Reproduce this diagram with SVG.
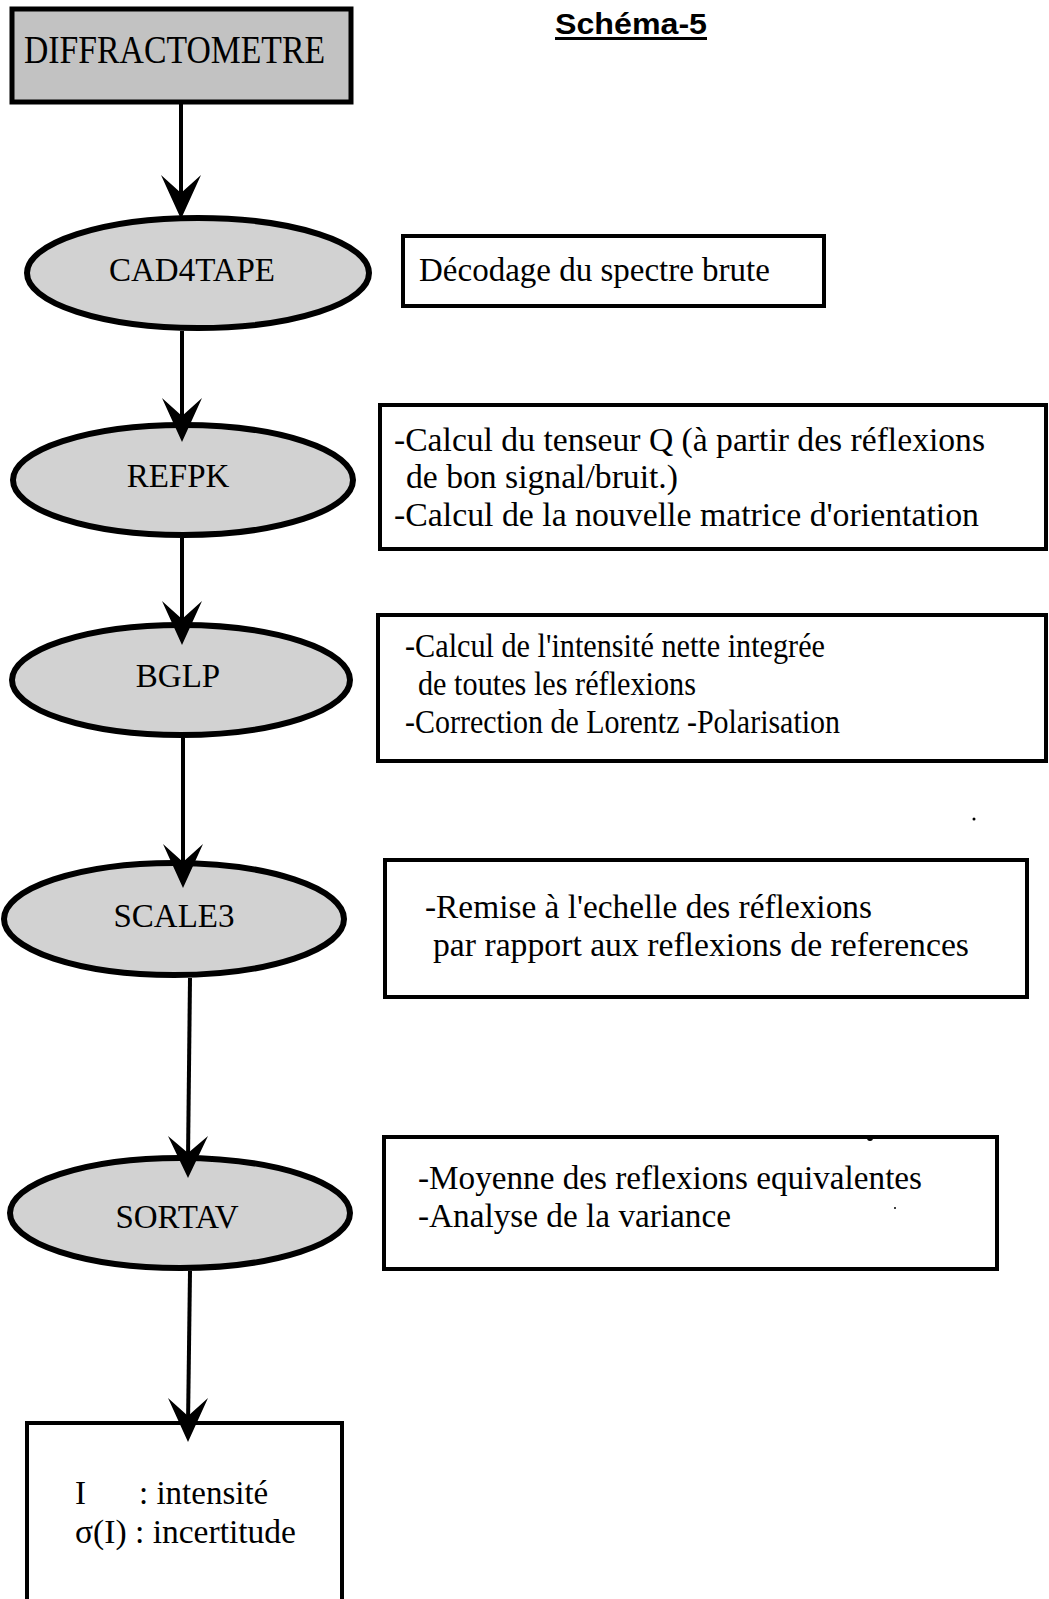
<svg xmlns="http://www.w3.org/2000/svg" width="1049" height="1599" viewBox="0 0 1049 1599">
<style>
.bg{fill:#ffffff}
.shade{fill:#d2d2d2;stroke:#000;stroke-width:6}
.dshade{fill:#c2c2c2;stroke:#000;stroke-width:5}
.box{fill:#fff;stroke:#000;stroke-width:4}
.t{font-family:"Liberation Serif","Times New Roman",serif;font-size:33px;fill:#000}
.tc{font-family:"Liberation Serif","Times New Roman",serif;font-size:33px;fill:#000;text-anchor:middle}
.line{stroke:#000;stroke-width:4;fill:none}
.head{fill:#000}
.title{font-family:"Liberation Sans",Arial,sans-serif;font-weight:bold;font-size:29px;fill:#000}
</style>
<rect class="bg" x="0" y="0" width="1049" height="1599"/>

<g id="title">
<text class="title" x="555" y="34" textLength="152" lengthAdjust="spacingAndGlyphs">Schéma-5</text>
<rect x="555" y="37" width="152" height="3" fill="#000"/>
</g>

<g id="n-diffractometre">
<rect class="dshade" x="12" y="9" width="339" height="93"/>
<text class="t" x="24" y="63" style="font-size:40px" textLength="301" lengthAdjust="spacingAndGlyphs">DIFFRACTOMETRE</text>
</g>

<g id="n-cad4tape">
<ellipse class="shade" cx="198" cy="273" rx="171" ry="55"/>
<text class="tc" x="192" y="281">CAD4TAPE</text>
</g>
<g id="d-cad4tape">
<rect class="box" x="403" y="236" width="421" height="70"/>
<text class="t" x="419" y="281">Décodage du spectre brute</text>
</g>

<g id="n-refpk">
<ellipse class="shade" cx="183" cy="480" rx="170" ry="55"/>
<text class="tc" x="178" y="487">REFPK</text>
</g>
<g id="d-refpk">
<rect class="box" x="380" y="405" width="666" height="144"/>
<text class="t" x="394" y="451" textLength="591" lengthAdjust="spacingAndGlyphs">-Calcul du tenseur Q (à partir des réflexions</text>
<text class="t" x="406" y="488" textLength="272" lengthAdjust="spacingAndGlyphs">de bon signal/bruit.)</text>
<text class="t" x="394" y="526" textLength="585" lengthAdjust="spacingAndGlyphs">-Calcul de la nouvelle matrice d'orientation</text>
</g>

<g id="n-bglp">
<ellipse class="shade" cx="181" cy="680" rx="169" ry="55"/>
<text class="tc" x="178" y="687">BGLP</text>
</g>
<g id="d-bglp">
<rect class="box" x="378" y="615" width="668" height="146"/>
<text class="t" x="405" y="657" textLength="420" lengthAdjust="spacingAndGlyphs">-Calcul de l'intensité nette integrée</text>
<text class="t" x="418" y="695" textLength="278" lengthAdjust="spacingAndGlyphs">de toutes les réflexions</text>
<text class="t" x="405" y="733" textLength="435" lengthAdjust="spacingAndGlyphs">-Correction de Lorentz -Polarisation</text>
</g>

<g id="n-scale3">
<ellipse class="shade" cx="174" cy="919" rx="170" ry="56"/>
<text class="tc" x="174" y="927">SCALE3</text>
</g>
<g id="d-scale3">
<rect class="box" x="385" y="860" width="642" height="137"/>
<text class="t" x="425" y="918" textLength="447" lengthAdjust="spacingAndGlyphs">-Remise à l'echelle des réflexions</text>
<text class="t" x="433" y="956" textLength="536" lengthAdjust="spacingAndGlyphs">par rapport aux reflexions de references</text>
</g>

<g id="n-sortav">
<ellipse class="shade" cx="180" cy="1213" rx="170" ry="55"/>
<text class="tc" x="177" y="1228">SORTAV</text>
</g>
<g id="d-sortav">
<rect class="box" x="384" y="1137" width="613" height="132"/>
<text class="t" x="418" y="1189" textLength="504" lengthAdjust="spacingAndGlyphs">-Moyenne des reflexions equivalentes</text>
<text class="t" x="418" y="1227" textLength="313" lengthAdjust="spacingAndGlyphs">-Analyse de la variance</text>
</g>

<g id="n-result">
<rect class="box" x="27" y="1423" width="315" height="200"/>
<text class="t" x="75" y="1504">I</text>
<text class="t" x="139" y="1504">: intensité</text>
<text class="t" x="75" y="1543" textLength="221" lengthAdjust="spacingAndGlyphs">σ(I) : incertitude</text>
</g>

<g id="connectors">
<line class="line" x1="181" y1="104" x2="181" y2="200"/>
<polygon class="head" points="181,219 161,175 181,193 201,175"/>
<line class="line" x1="182" y1="331" x2="182" y2="425"/>
<polygon class="head" points="182,442 162,398 182,416 202,398"/>
<line class="line" x1="182" y1="538" x2="182" y2="628"/>
<polygon class="head" points="182,645 162,601 182,619 202,601"/>
<line class="line" x1="183" y1="738" x2="183" y2="870"/>
<polygon class="head" points="183,888 163,844 183,862 203,844"/>
<line class="line" x1="190" y1="978" x2="188" y2="1160"/>
<polygon class="head" points="188,1178 168,1136 188,1153 208,1136"/>
<line class="line" x1="190" y1="1271" x2="188" y2="1425"/>
<polygon class="head" points="188,1442 168,1398 188,1416 208,1398"/>
</g>

<g id="specks" fill="#000">
<circle cx="974" cy="819" r="1.5"/>
<circle cx="870" cy="1138" r="3"/>
<circle cx="895" cy="1208" r="1"/>
</g>
</svg>
